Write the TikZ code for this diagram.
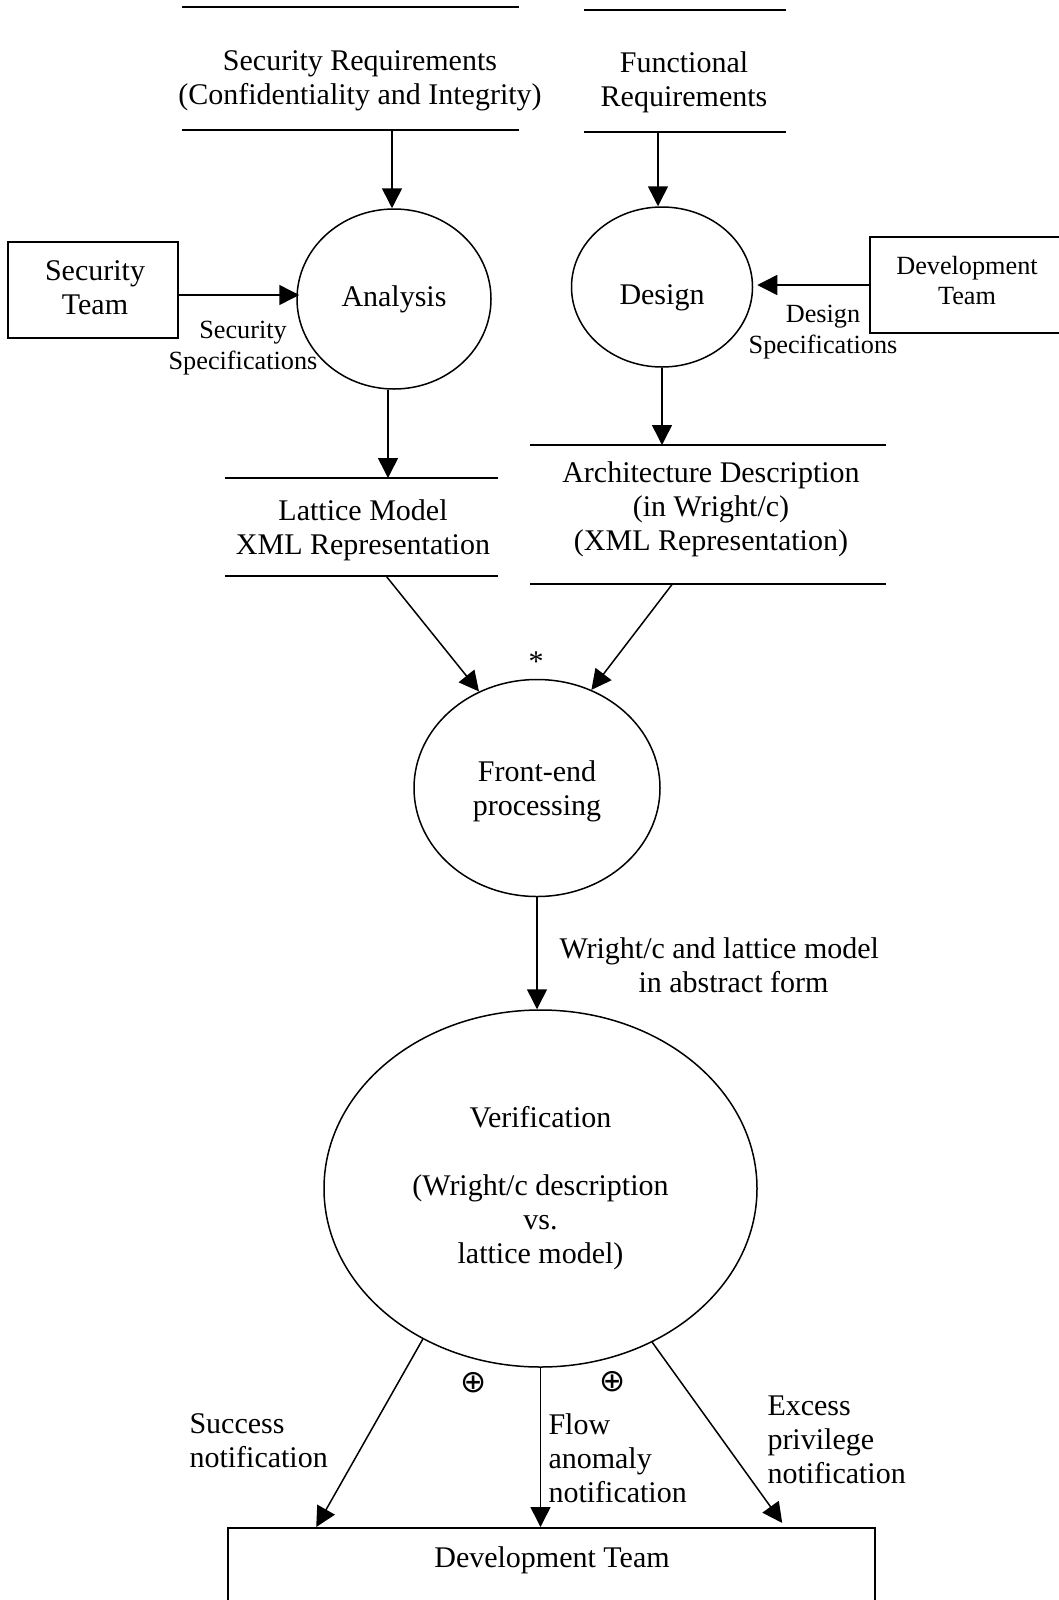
\documentclass[tikz,border=0pt]{standalone}
\usepackage{fontspec}
\setmainfont{Liberation Serif}
\newfontfamily\symbfont{DejaVu Sans}
\usetikzlibrary{arrows.meta,shapes.geometric,calc}

\begin{document}
\begin{tikzpicture}[x=0.4pt,y=-0.4pt,
  txt/.style={inner sep=0pt, align=center, font=\fontsize{12}{13.6}\selectfont},
  small/.style={inner sep=0pt, align=center, font=\fontsize{10.5}{12.4}\selectfont},
  proc/.style={draw, ellipse, line width=0.6pt, inner sep=0pt, align=center,
    font=\fontsize{12}{13.6}\selectfont},
  entity/.style={draw, rectangle, line width=0.8pt, inner sep=0pt, align=center},
  storebox/.style={rectangle, inner sep=0pt, outer sep=0pt, draw=none},
  storeline/.style={line width=0.8pt},
  flow/.style={line width=0.6pt, -{Triangle[length=8pt,width=8pt]}},
  symb/.style={inner sep=0pt, font=\symbfont\fontsize{12.5}{13}\selectfont},
]
\useasboundingbox (0,0) rectangle (1059,1600);
\clip (0,0) rectangle (1059,1600);

% ---- data stores: a pair of horizontal lines around the text
\node[storebox, minimum width=134.8pt, minimum height=49.2pt] (secreq) at (350.5,68.5) {};
\node[txt] (secreqtext) at (360,81) {Security Requirements\\(Confidentiality and Integrity)};
\node[storebox, minimum width=80.8pt, minimum height=48.8pt] (funcreq) at (685,71) {};
\node[txt] (funcreqtext) at (684,82) {Functional\\Requirements};
\node[storebox, minimum width=109.2pt, minimum height=39.2pt] (lattice) at (361.5,527) {};
\node[txt] (latticetext) at (363,530) {Lattice Model\\XML Representation};
\node[storebox, minimum width=142.4pt, minimum height=55.6pt] (arch) at (708,514.5) {};
\node[txt] (archtext) at (711,509.5) {Architecture Description\\(in Wright/c)\\(XML Representation)};

\foreach \s in {secreq,funcreq,lattice,arch}
  \draw[storeline] (\s.north west) -- (\s.north east) (\s.south west) -- (\s.south east);

% ---- processes
\node[proc, minimum width=77.6pt, minimum height=72pt] (analysis) at (394,299) {Analysis};
\node[proc, minimum width=72.4pt, minimum height=64pt] (design) at (662,287) {};
\node[txt] (designtext) at ([yshift=-4.5pt]design.center) {Design};
\node[proc, minimum width=98.4pt, minimum height=86.8pt] (fe) at (537,788) {};
\node[txt] (fetext) at ([yshift=-1.2pt]fe.center) {Front-end\\processing};
\node[proc, minimum width=173.2pt, minimum height=142.8pt] (verif) at (540.5,1188.5)
  {Verification\\[13.6pt](Wright/c description\\vs.\\lattice model)};

% ---- external entities
\node[entity, minimum width=68pt, minimum height=38.4pt] (secteam) at (93,290) {};
\node[txt] (secteamtext) at ([xshift=0.8pt,yshift=1pt]secteam.center) {Security\\Team};
\node[entity, minimum width=77.6pt, minimum height=38.4pt] (devteam) at (967,285) {};
\node[small, font=\fontsize{10.5}{12}\selectfont] (devteamtext) at ([yshift=1.8pt]devteam.center)
  {Development\\Team};
\node[entity, minimum width=258.8pt, minimum height=52.8pt] (devbot) at (551.5,1594) {};
\node[txt] (devbottext) at (552,1560) {Development Team};

% ---- flows
\draw[flow] ([xshift=-0.8pt]analysis.north |- secreq.south) -- ([xshift=-0.8pt]analysis.north);
\draw[flow] ([xshift=-1.6pt]design.north |- funcreq.south) -- ([xshift=-1.6pt]design.north);
\draw[flow] ($(secteam.east)+(0,5)$) -- ($(secteam.east -| analysis.west)+(3,5)$);
\draw[flow] (devteam.west) -- ($(devteam.west -| design.east)+(4,0)$);
\draw[flow] ([xshift=-2.4pt]analysis.south) -- ([xshift=-2.4pt]analysis.south |- lattice.north);
\draw[flow] (design.south) -- (design.south |- arch.north);
\draw[flow] ($(lattice.south west)!0.59!(lattice.south east)$) -- (fe.121);
\draw[flow] ($(arch.south west)!0.40!(arch.south east)$) -- (fe.61);
\draw[flow] (fe.south) -- (fe.south |- verif.north);
\draw[flow] (verif.232) -- ($(devbot.north west)!0.1375!(devbot.north east)$);
\draw[flow] (verif.south) -- (verif.south |- devbot.north);
\draw[flow, shorten >=2pt] (verif.306) -- ($(devbot.north west)!0.86!(devbot.north east)$);

% ---- flow labels
\node[small] (secspec) at (243,348) {Security\\Specifications};
\node[small] (desspec) at (823,332) {Design\\Specifications};
\node[txt, align=left, anchor=west] (abstract) at (559,965)
  {Wright/c and lattice model\\\hspace*{31.6pt}in abstract form};
\node[txt] (star) at (536,662) {*};
\node[symb] (plusa) at (474,1383) {⊕};
\node[symb] (plusb) at (612.5,1382) {⊕};
\node[txt, align=left, anchor=west] (success) at (189,1441) {Success\\notification};
\node[txt, align=left, anchor=west] (flowlbl) at (548,1458) {Flow\\anomaly\\notification};
\node[txt, align=left, anchor=west] (excess) at (767,1439.5) {Excess\\privilege\\notification};
\end{tikzpicture}
\end{document}
